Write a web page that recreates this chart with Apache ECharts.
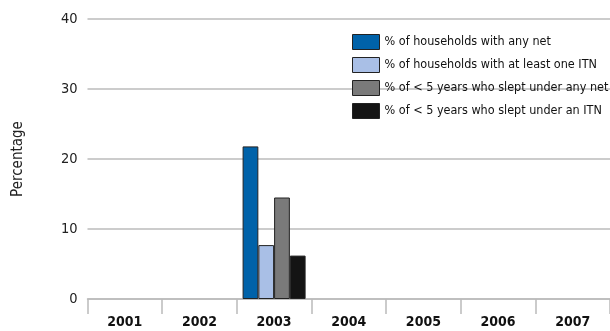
<!DOCTYPE html>
<html>
<head>
<meta charset="utf-8">
<script src="https://cdn.jsdelivr.net/npm/echarts@6/dist/echarts.min.js"></script>
<style>
html,body{margin:0;padding:0;background:#fff;}
#chart{width:610px;height:331px;}
</style>
</head>
<body>
<div id="chart"></div>
<script>
var years = ['2001','2002','2003','2004','2005','2006','2007'];
var seriesNames = [
  '% of households with any net',
  '% of households with at least one ITN',
  '% of < 5 years who slept under any net',
  '% of < 5 years who slept under an ITN'
];
var anyNetHouseholds = [null, null, 21.8, null, null, null, null];
var itnHouseholds = [null, null, 7.7, null, null, null, null];
var under5AnyNet = [null, null, 14.5, null, null, null, null];
var under5ITN = [null, null, 6.2, null, null, null, null];
var yTicks = [0, 10, 20, 30, 40];

var colors = ['#0062a9', '#a9bfe6', '#7a7a7a', '#141414'];
var FONT = '"DejaVu Sans Condensed", "Liberation Sans Narrow", "Liberation Sans", sans-serif';
var data = [anyNetHouseholds, itnHouseholds, under5AnyNet, under5ITN];

var chart = echarts.init(document.getElementById('chart'));
chart.setOption({
  animation: false,
  textStyle: {fontFamily: FONT},
  grid: {left: 87.5, right: -2, top: 19, bottom: 32, containLabel: false},
  legend: {
    orient: 'vertical',
    left: 347, top: 29,
    itemWidth: 27, itemHeight: 15, itemGap: 7,
    icon: 'rect',
    textStyle: {fontFamily: FONT, fontSize: 12.5, color: '#111', padding: [0,0,0,0]},
    data: seriesNames.map(function(n,i){return {name:n, itemStyle:{color:colors[i], borderColor:'#222', borderWidth:1}};})
  },
  xAxis: {
    type: 'category',
    data: years,
    boundaryGap: true,
    axisLine: {lineStyle: {color: '#bbbbbb', width: 1.5}},
    axisTick: {show: true, length: 15, lineStyle: {color: '#bbbbbb', width: 1.5}},
    axisLabel: {color: '#111', fontFamily: FONT, fontWeight: 'bold', fontSize: 14, margin: 16}
  },
  yAxis: {
    type: 'value',
    min: 0, max: 40, interval: 10,
    name: 'Percentage',
    nameLocation: 'middle',
    nameRotate: 90,
    nameGap: 62,
    nameTextStyle: {fontFamily: FONT, fontSize: 15, color: '#222'},
    axisLine: {show: false},
    axisTick: {show: false},
    splitLine: {lineStyle: {color: '#bbbbbb', width: 1.5}},
    axisLabel: {color: '#222', fontFamily: FONT, fontSize: 14.5, margin: 10,
      formatter: function(v){ return yTicks.indexOf(v) >= 0 ? String(v) : ''; }}
  },
  series: data.map(function(d,i){
    return {
      name: seriesNames[i],
      type: 'bar',
      data: d,
      barWidth: 15.75,
      barGap: '0%',
      itemStyle: {color: colors[i], borderColor: '#222', borderWidth: 1}
    };
  })
});
</script>
</body>
</html>
